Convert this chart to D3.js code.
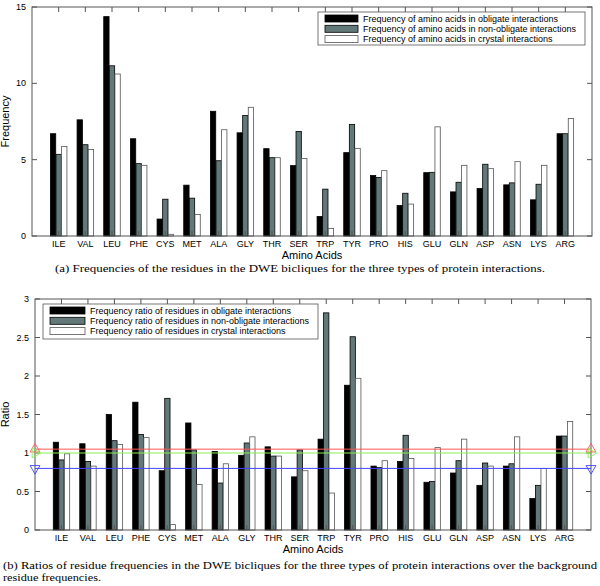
<!DOCTYPE html>
<html><head><meta charset="utf-8">
<script src="https://cdn.jsdelivr.net/npm/d3@7"></script>
<style>body{margin:0;background:#fff}svg{display:block}</style>
</head><body>
<script>
const categories = ["ILE","VAL","LEU","PHE","CYS","MET","ALA","GLY","THR","SER","TRP","TYR","PRO","HIS","GLU","GLN","ASP","ASN","LYS","ARG"];
const freqObligate    = [6.70,7.61,14.37,6.37,1.11,3.33,8.17,6.76,5.72,4.61,1.28,5.46,3.96,2.00,4.15,2.89,3.11,3.35,2.37,6.70];
const freqNonObligate = [5.35,5.98,11.15,4.74,2.41,2.48,4.93,7.89,5.13,6.85,3.07,7.30,3.83,2.80,4.17,3.52,4.70,3.48,3.39,6.70];
const freqCrystal     = [5.87,5.67,10.61,4.63,0.11,1.41,6.96,8.43,5.13,5.07,0.50,5.74,4.28,2.09,7.15,4.63,4.41,4.87,4.63,7.70];
const ratioObligate    = [1.14,1.12,1.50,1.66,0.77,1.39,1.02,0.97,1.08,0.69,1.18,1.88,0.83,0.89,0.62,0.74,0.58,0.83,0.41,1.22];
const ratioNonObligate = [0.91,0.89,1.16,1.24,1.71,1.04,0.61,1.13,0.96,1.04,2.82,2.51,0.81,1.23,0.63,0.90,0.87,0.86,0.58,1.22];
const ratioCrystal     = [0.99,0.83,1.11,1.20,0.07,0.59,0.86,1.21,0.96,0.77,0.48,1.97,0.90,0.93,1.07,1.18,0.83,1.21,0.80,1.41];
const refLines = [1.05, 1.0, 0.8];
const freqTicks = [0,5,10,15];
const ratioTicks = [0,0.5,1,1.5,2,2.5,3];
const freqLegend = ["Frequency of amino acids in obligate interactions","Frequency of amino acids in non-obligate interactions","Frequency of amino acids in crystal interactions"];
const ratioLegend = ["Frequency ratio of residues in obligate interactions","Frequency ratio of residues in non-obligate interactions","Frequency ratio of residues in crystal interactions"];

const W=600,H=586;
const svg=d3.select("body").append("svg").attr("width",W).attr("height",H);
const fills=["#000000","#637878","#ffffff"];
const SANS="'Liberation Sans', Arial, sans-serif";
const SERIF="'Liberation Serif', 'DejaVu Serif', serif";

function panel(o){
  const g=svg.append("g");
  const x=d3.scaleLinear().domain([0,21]).range([o.x0,o.x1]);
  const y=d3.scaleLinear().domain(o.ydom).range([o.y1,o.y0]);
  const unit=x(1)-x(0);
  o.series.forEach((s,si)=>{
    g.append("g").selectAll("rect").data(s).join("rect")
      .attr("x",(d,i)=>x(i+1+(si-1)*0.21)-unit*0.1)
      .attr("width",unit*0.2)
      .attr("y",d=>y(d)).attr("height",d=>y(0)-y(d))
      .attr("fill",fills[si]).attr("stroke",si==2?"#555":"#000").attr("stroke-width",0.8);
  });
  g.append("rect").attr("x",o.x0).attr("y",o.y0).attr("width",o.x1-o.x0).attr("height",o.y1-o.y0)
    .attr("fill","none").attr("stroke","#555").attr("stroke-width",1);
  const xt=d3.range(1,21);
  g.append("g").selectAll("line.b").data(xt).join("line")
    .attr("x1",d=>x(d)).attr("x2",d=>x(d)).attr("y1",o.y1).attr("y2",o.y1-5).attr("stroke","#555");
  g.append("g").selectAll("line.t").data(xt).join("line")
    .attr("x1",d=>x(d)).attr("x2",d=>x(d)).attr("y1",o.y0).attr("y2",o.y0+5).attr("stroke","#555");
  g.append("g").selectAll("text").data(categories).join("text")
    .attr("x",(d,i)=>x(i+1)).attr("y",o.y1+11).attr("text-anchor","middle")
    .attr("font-family",SANS).attr("font-size",9).text(d=>d);
  g.append("g").selectAll("line.l").data(o.yticks).join("line")
    .attr("x1",o.x0).attr("x2",o.x0+5).attr("y1",d=>y(d)).attr("y2",d=>y(d)).attr("stroke","#555");
  g.append("g").selectAll("line.r").data(o.yticks).join("line")
    .attr("x1",o.x1).attr("x2",o.x1-5).attr("y1",d=>y(d)).attr("y2",d=>y(d)).attr("stroke","#555");
  g.append("g").selectAll("text").data(o.yticks).join("text")
    .attr("x",o.x0-6).attr("y",d=>y(d)+3).attr("text-anchor","end")
    .attr("font-family",SANS).attr("font-size",9).text(d=>d);
  g.append("text").attr("x",(o.x0+o.x1)/2).attr("y",o.y1+23).attr("text-anchor","middle")
    .attr("font-family",SANS).attr("font-size",11).text("Amino Acids");
  g.append("text").attr("transform",`translate(${o.ylabX},${(o.y0+o.y1)/2}) rotate(-90)`)
    .attr("text-anchor","middle").attr("font-family",SANS).attr("font-size",11).text(o.ylabel);
  const L=o.legend;
  g.append("rect").attr("x",L.x).attr("y",L.y).attr("width",L.w).attr("height",L.h)
    .attr("fill","#fff").attr("stroke","#555").attr("stroke-width",0.8);
  L.labels.forEach((t,i)=>{
    const yy=L.y+6.5+i*10.3;
    g.append("rect").attr("x",L.x+7).attr("y",yy-3.5).attr("width",L.sw).attr("height",7)
      .attr("fill",fills[i]).attr("stroke",i==2?"#555":"#000").attr("stroke-width",0.8);
    g.append("text").attr("x",L.x+L.sw+12).attr("y",yy+3.2).attr("font-family",SANS)
      .attr("font-size",9).text(t);
  });
  return {x,y,g};
}

panel({x0:32,x1:592,y0:7,y1:236,ydom:[0,15],yticks:freqTicks,
  series:[freqObligate,freqNonObligate,freqCrystal],ylabel:"Frequency",ylabX:9,
  legend:{x:318,y:12,w:267,h:33,sw:33,labels:freqLegend}});

const p2=panel({x0:35,x1:591,y0:299,y1:530,ydom:[0,3],yticks:ratioTicks,
  series:[ratioObligate,ratioNonObligate,ratioCrystal],ylabel:"Ratio",ylabX:9,
  legend:{x:43,y:304,w:275,h:35,sw:35,labels:ratioLegend}});

const refColors=["#ff5555","#88ee55","#4444ff"];
const rot=[0,90,180];
refLines.forEach((v,i)=>{
  const yy=p2.y(v);
  p2.g.append("line").attr("x1",35).attr("x2",591).attr("y1",yy).attr("y2",yy)
    .attr("stroke",refColors[i]).attr("stroke-width",1);
  [35,591].forEach(xx=>{
    p2.g.append("path").attr("d",d3.symbol(d3.symbolTriangle,42)())
      .attr("transform",`translate(${xx},${yy}) rotate(${rot[i]})`)
      .attr("fill","none").attr("stroke",refColors[i]).attr("stroke-width",0.9);
  });
});

svg.append("text").attr("x",55).attr("y",272).attr("textLength",490).attr("lengthAdjust","spacingAndGlyphs")
  .attr("font-family",SERIF).attr("font-size",10.5)
  .text("(a) Frequencies of the residues in the DWE bicliques for the three types of protein interactions.");
svg.append("text").attr("x",3).attr("y",569).attr("textLength",594).attr("lengthAdjust","spacingAndGlyphs")
  .attr("font-family",SERIF).attr("font-size",10.5)
  .text("(b) Ratios of residue frequencies in the DWE bicliques for the three types of protein interactions over the background");
svg.append("text").attr("x",3).attr("y",581).attr("textLength",98).attr("lengthAdjust","spacingAndGlyphs")
  .attr("font-family",SERIF).attr("font-size",10.5).text("residue frequencies.");
</script>
</body></html>
